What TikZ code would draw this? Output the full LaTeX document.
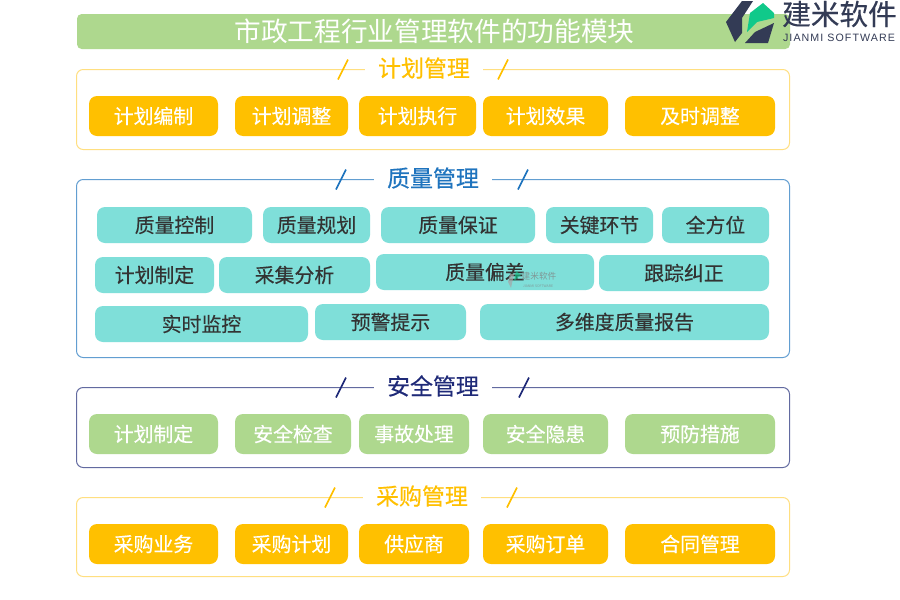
\documentclass[tikz,border=0pt]{standalone}
\usepackage{fontspec}
\setmainfont{Noto Sans CJK SC}
\newfontfamily\heavyfont[FakeBold=0.35]{Noto Sans CJK SC}
\newfontfamily\logofont[FakeBold=0.2]{Noto Sans CJK SC}
\newfontfamily\latinfont[LetterSpace=10]{Liberation Sans}
\definecolor{cgreen}{HTML}{AED88E}
\definecolor{cyellow}{HTML}{FFC000}
\definecolor{cpale}{HTML}{FFDF80}
\definecolor{cteal}{HTML}{7FDFD9}
\definecolor{cdark}{HTML}{333B55}
\definecolor{cleaf}{HTML}{10C98A}
\definecolor{cblue}{HTML}{1F74BE}
\definecolor{cnavy}{HTML}{1F2A78}
\tikzset{
  titlebar/.style={fill=cgreen,rounded corners=3.5,inner sep=0,text=white,font=\fontsize{20}{24}\selectfont},
  frame/.style={rounded corners=5,line width=0.75pt,fill=white},
  sect/.style={inner sep=0,font=\heavyfont\fontsize{17.2}{20}\selectfont},
  mark line/.style={line width=1.2pt},
  chip/.style={rounded corners=6,inner sep=0,font=\heavyfont\fontsize{14.9}{17}\selectfont},
  ychip/.style={chip,fill=cyellow,text=white},
  gchip/.style={chip,fill=cgreen,text=white},
  tchip/.style={chip,fill=cteal,text=black!80},
}
% #1 name, #2 x0, #3 y0, #4 x1, #5 y1, #6 fill style, #7 text
\newcommand{\chipbox}[7]{%
  \path[#6] (#2,#3) rectangle (#4,#5);
  \node[#6,fill=none,anchor=center] (#1) at ({(#2+#4)/2},{(#3+#5)/2}) {#7};
}
% #1 name, #2 frame y0, #3 y1, #4 frame colour, #5 text colour, #6 text, #7 text x, #8 left slash x, #9 right slash x
\newcommand{\sectbox}[9]{%
  \draw[frame,draw=#4] (76.5,#2) rectangle (789.5,#3);
  \fill[white] (#7-59,#2-3) rectangle (#7+59,#2+3);
  \node[sect,text=#5] (#1) at (#7,#2-1.5) {#6};
  \draw[mark line,draw=#5] (#8-1,#2+10) -- (#8+9,#2-10);
  \draw[mark line,draw=#5] (#9-1,#2+10) -- (#9+9,#2-10);
}
\begin{document}
\begin{tikzpicture}[x=0.75pt,y=-0.75pt]
\useasboundingbox (0,0) rectangle (900,600);
\fill[white] (0,0) rectangle (900,600);
% title
\path[titlebar] (77,14) rectangle (790,49);
\node[titlebar,fill=none] (title) at (434.5,31.5) {市政工程行业管理软件的功能模块};
% logo
\fill[cdark] (726,22) -- (742,1) -- (753,1) -- (742,18) -- (742,33) -- (735,42) -- cycle;
\fill[cdark] (745,43) -- (755,32) -- (774,23) -- (768,43) -- cycle;
\fill[cleaf] (747,32) -- (750,13) -- (763,3) -- (774,13) -- (774,18) -- (757,22) -- cycle;
\node[inner sep=0,text=cdark,font=\logofont\fontsize{21.5}{24}\selectfont] (logotext) at (839.5,14) {建米软件};
\node[inner sep=0,text=cdark,font=\latinfont\fontsize{8}{10}\selectfont] (logosub) at (839,38) {JIANMI SOFTWARE};
% section 1
\sectbox{s1}{69.5}{149.5}{cpale}{cyellow}{计划管理}{424}{339}{499}
\chipbox{a1}{89}{96}{218}{136}{ychip}{计划编制}
\chipbox{a2}{235}{96}{348}{136}{ychip}{计划调整}
\chipbox{a3}{359}{96}{476}{136}{ychip}{计划执行}
\chipbox{a4}{483}{96}{608}{136}{ychip}{计划效果}
\chipbox{a5}{625}{96}{775}{136}{ychip}{及时调整}
% section 2
\sectbox{s2}{179.5}{357.5}{cblue!70}{cblue}{质量管理}{433}{337}{519}
\chipbox{b1}{97}{207}{252}{243}{tchip}{质量控制}
\chipbox{b2}{263}{207}{370}{243}{tchip}{质量规划}
\chipbox{b3}{381}{207}{535}{243}{tchip}{质量保证}
\chipbox{b4}{546}{207}{653}{243}{tchip}{关键环节}
\chipbox{b5}{662}{207}{769}{243}{tchip}{全方位}
\chipbox{c1}{95}{257}{214}{293}{tchip}{计划制定}
\chipbox{c2}{219}{257}{370}{293}{tchip}{采集分析}
\chipbox{c3}{376}{254}{594}{290}{tchip}{质量偏差}
\chipbox{c4}{599}{255}{769}{291}{tchip}{跟踪纠正}
\chipbox{d1}{95}{306}{308}{342}{tchip}{实时监控}
\chipbox{d2}{315}{304}{466}{340}{tchip}{预警提示}
\chipbox{d3}{480}{304}{769}{340}{tchip}{多维度质量报告}
% watermark
\fill[gray!70,opacity=.7] (510,274) -- (514,274) -- (511,288) -- (508,282) -- cycle;
\fill[cleaf,opacity=.6] (514,281) -- (516,271) -- (521,275) -- cycle;
\node[inner sep=0,text=gray,opacity=.75,font=\fontsize{6.5}{7}\selectfont] (wm) at (539,276) {建米软件};
\node[inner sep=0,text=gray,opacity=.7,font=\fontsize{2.6}{3}\selectfont] (wmsub) at (538,286) {JIANMI SOFTWARE};
% section 3
\sectbox{s3}{387.5}{467.5}{cnavy!70}{cnavy}{安全管理}{433}{337}{520}
\chipbox{e1}{89}{414}{218}{454}{gchip}{计划制定}
\chipbox{e2}{235}{414}{351}{454}{gchip}{安全检查}
\chipbox{e3}{359}{414}{469}{454}{gchip}{事故处理}
\chipbox{e4}{483}{414}{608}{454}{gchip}{安全隐患}
\chipbox{e5}{625}{414}{775}{454}{gchip}{预防措施}
% section 4
\sectbox{s4}{497.5}{576.5}{cpale}{cyellow}{采购管理}{422}{326}{508}
\chipbox{f1}{89}{524}{218}{564}{ychip}{采购业务}
\chipbox{f2}{235}{524}{348}{564}{ychip}{采购计划}
\chipbox{f3}{359}{524}{469}{564}{ychip}{供应商}
\chipbox{f4}{483}{524}{608}{564}{ychip}{采购订单}
\chipbox{f5}{625}{524}{775}{564}{ychip}{合同管理}
\end{tikzpicture}
\end{document}
